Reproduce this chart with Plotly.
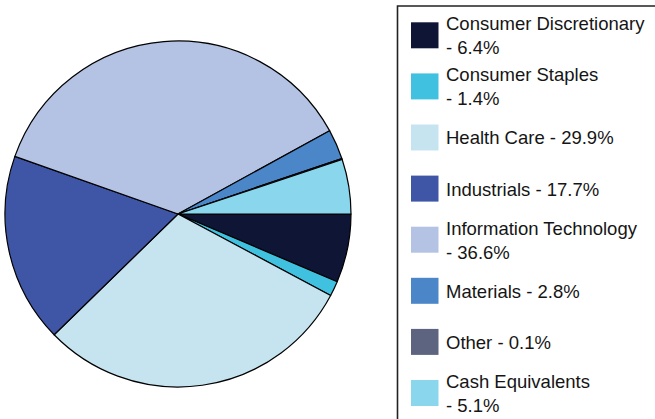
import plotly.graph_objects as go

labels = ["Consumer Discretionary", "Consumer Staples", "Health Care", "Industrials",
          "Information Technology", "Materials", "Other", "Cash Equivalents"]
values = [6.4, 1.4, 29.9, 17.7, 36.6, 2.8, 0.1, 5.1]
colors = ["#0f1535", "#41c1e0", "#c5e4f0", "#3f56a6", "#b4c3e4", "#4a86c8", "#5c6480", "#8ad6ec"]
legend_text = ["Consumer Discretionary<br>- 6.4%", "Consumer Staples<br>- 1.4%",
               "Health Care - 29.9%", "Industrials - 17.7%",
               "Information Technology<br>- 36.6%", "Materials - 2.8%",
               "Other - 0.1%", "Cash Equivalents<br>- 5.1%"]

W, H = 655, 419

fig = go.Figure(go.Pie(
    labels=labels, values=values, sort=False, direction="clockwise", rotation=90,
    marker=dict(colors=colors, line=dict(color="#000000", width=1.2)),
    textinfo="none", hoverinfo="label+percent", showlegend=False,
    domain=dict(x=[5 / W, 351 / W], y=[1 - 387 / H, 1 - 41 / H]),
))

shapes = [dict(type="rect", xref="paper", yref="paper",
               x0=397.5 / W, x1=(W + 10) / W, y0=-10 / H, y1=1 - 6 / H,
               line=dict(color="#222222", width=1.6), fillcolor="rgba(0,0,0,0)")]
annotations = []
for i, (c, t) in enumerate(zip(colors, legend_text)):
    top = 22.3 + i * 51.1
    shapes.append(dict(type="rect", xref="paper", yref="paper",
                       x0=411 / W, x1=438.5 / W, y0=1 - (top + 26) / H, y1=1 - top / H,
                       line=dict(width=0), fillcolor=c))
    annotations.append(dict(xref="paper", yref="paper", x=444 / W, y=1 - (top + 13.5) / H,
                            xanchor="left", yanchor="middle", align="left", showarrow=False,
                            text=t, font=dict(family="Liberation Sans, Arial", size=18.5, color="#151515")))

fig.update_layout(width=W, height=H, margin=dict(l=0, r=0, t=0, b=0),
                  paper_bgcolor="white", plot_bgcolor="white",
                  shapes=shapes, annotations=annotations)
fig.write_html("out.html", config={"displayModeBar": False},
               post_script="document.body.style.margin='0';document.body.style.overflow='hidden';")
